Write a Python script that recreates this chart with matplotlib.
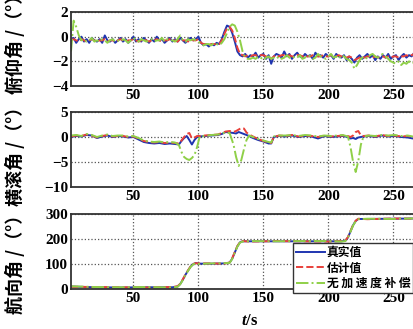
import numpy as np
import matplotlib
matplotlib.use('Agg')
import matplotlib.pyplot as plt

plt.rcParams['font.family'] = ['Liberation Serif', 'DejaVu Serif']
plt.rcParams['font.weight'] = 'bold'
plt.rcParams['mathtext.fontset'] = 'custom'
plt.rcParams['mathtext.it'] = 'Liberation Serif:italic:bold'
plt.rcParams['mathtext.rm'] = 'Liberation Serif:bold'

# ---- pitch data (2 s step) ----
pitch_t = np.arange(2, 271, 2)
pitch_true = [
    -0.3, -0.1, -0.5, -0.2, 0.0, -0.4, -0.2, -0.5, -0.1, -0.3,
    -0.4, -0.2, -0.5, 0.1, -0.3, -0.4, -0.2, -0.5, -0.3, -0.1,
    -0.4, -0.2, -0.5, -0.3, 0.0, -0.4, -0.2, -0.4, -0.1, -0.3,
    -0.5, -0.2, -0.4, 0.0, -0.3, -0.2, -0.5, -0.3, -0.1, -0.4,
    -0.2, -0.4, -0.1, -0.3, -0.5, -0.2, -0.1, -0.3, -0.2, 0.0,
    -0.5, -0.7, -0.6, -0.8, -0.6, -0.7, -0.5, -0.6, -0.2, 0.4,
    0.9, 0.8, 0.3, -0.4, -1.2, -1.5, -1.6, -1.4, -1.7, -1.5,
    -1.6, -1.3, -1.7, -1.5, -1.4, -1.8, -1.5, -2.2, -1.6, -1.4,
    -1.5, -1.7, -1.2, -1.6, -1.4, -1.8, -1.5, -1.3, -1.6, -1.7,
    -1.4, -1.6, -1.5, -1.8, -1.3, -1.6, -1.5, -1.7, -1.4, -1.6,
    -1.5, -1.8, -1.4, -1.6, -1.7, -1.5, -1.9, -1.6, -1.8, -2.1,
    -1.7, -1.5, -1.8, -1.6, -1.4, -1.7, -1.5, -1.9, -1.6, -1.8,
    -1.5, -1.7, -1.4, -1.8, -1.6, -1.5, -1.9, -1.6, -1.4, -1.7,
    -1.5, -1.6, -1.3, -1.6, -1.5]
pitch_est = [
    -0.3, -0.2, -0.3, -0.4, -0.2, -0.3, -0.4, -0.3, -0.2, -0.3,
    -0.4, -0.3, -0.3, -0.2, -0.4, -0.3, -0.3, -0.4, -0.3, -0.2,
    -0.3, -0.4, -0.3, -0.3, -0.2, -0.3, -0.4, -0.3, -0.2, -0.3,
    -0.4, -0.3, -0.3, -0.2, -0.3, -0.4, -0.3, -0.3, -0.2, -0.3,
    -0.3, -0.4, -0.2, -0.3, -0.3, -0.4, -0.2, -0.3, -0.3, -0.2,
    -0.5, -0.6, -0.6, -0.7, -0.6, -0.6, -0.6, -0.6, -0.3, 0.2,
    0.7, 0.8, 0.5, -0.1, -0.9, -1.4, -1.5, -1.6, -1.5, -1.6,
    -1.5, -1.5, -1.6, -1.5, -1.5, -1.6, -1.6, -1.8, -1.6, -1.5,
    -1.6, -1.5, -1.5, -1.6, -1.5, -1.6, -1.6, -1.5, -1.5, -1.6,
    -1.5, -1.6, -1.6, -1.5, -1.5, -1.6, -1.6, -1.5, -1.6, -1.6,
    -1.5, -1.6, -1.6, -1.5, -1.6, -1.6, -1.7, -1.6, -1.7, -1.9,
    -1.8, -1.7, -1.6, -1.7, -1.6, -1.6, -1.7, -1.6, -1.7, -1.6,
    -1.6, -1.7, -1.6, -1.7, -1.6, -1.6, -1.7, -1.6, -1.6, -1.5,
    -1.6, -1.5, -1.4, -1.5, -1.5]
pitch_noacc = [
    -1.2, 1.3, 0.8, 0.1, -0.3, -0.2, -0.4, -0.3, -0.1, -0.4,
    -0.3, -0.4, -0.2, -0.3, -0.5, -0.3, -0.2, -0.4, -0.3, -0.4,
    -0.2, -0.3, -0.5, -0.3, -0.1, -0.3, -0.4, -0.2, -0.3, -0.4,
    -0.3, -0.2, -0.4, -0.3, -0.3, -0.1, -0.4, -0.2, -0.3, -0.3,
    -0.4, -0.2, 0.1, -0.3, -0.4, -0.2, -0.3, -0.2, -0.3, -0.4,
    -0.6, -0.7, -0.6, -0.6, -0.7, -0.5, -0.6, -0.7, -0.5, -0.2,
    0.3, 0.8, 1.0, 0.9, 0.4, -0.3, -1.2, -1.7, -1.8, -1.8,
    -1.7, -1.8, -1.6, -1.7, -1.9, -1.7, -1.6, -1.8, -1.7, -1.8,
    -1.6, -1.8, -1.7, -1.5, -1.7, -1.8, -1.6, -1.7, -1.5, -1.8,
    -1.7, -1.5, -1.6, -1.8, -1.7, -1.4, -1.6, -1.7, -1.8, -1.6,
    -1.4, -1.7, -1.6, -1.8, -1.5, -1.6, -1.8, -1.9, -2.1, -2.6,
    -2.3, -1.9, -1.7, -1.6, -1.8, -1.5, -1.4, -1.6, -1.7, -1.5,
    -1.4, -1.6, -1.8, -2.0, -2.1, -2.2, -2.0, -2.3, -2.1, -2.2,
    -2.0, -2.2, -2.1, -2.3, -2.2]

# ---- roll data ----
roll_t = [2, 6, 10, 14, 18, 22, 26, 30, 34, 38,
          42, 46, 50, 54, 58, 62, 66, 70, 74, 78,
          82, 85, 87, 89, 91, 93, 95, 97, 99, 101,
          105, 110, 115, 118, 121, 124, 127, 129, 131, 133,
          135, 137, 139, 142, 146, 150, 154, 156, 158, 162,
          167, 172, 177, 182, 187, 192, 197, 202, 207, 211,
          215, 217, 219, 221, 223, 225, 227, 231, 236, 241,
          246, 251, 256, 261, 265, 270]
roll_true = [0.0, 0.2, 0.1, 0.4, 0.3, -0.2, 0.1, 0.3, 0.0, 0.2,
             0.1, -0.1, 0.0, -0.5, -1.0, -1.2, -1.3, -1.2, -1.4, -1.3,
             -1.4, -1.5, -0.8, -0.2, 0.2, -0.6, -1.5, -0.6, 0.0, 0.1,
             0.2, 0.3, 0.4, 0.6, 1.0, 0.9, 0.8, 0.7, 1.0, 0.8,
             0.6, 0.4, 0.2, -0.2, -0.6, -0.9, -1.3, -1.3, 0.0, 0.2,
             0.1, 0.3, 0.0, 0.2, 0.1, -0.3, 0.2, 0.0, 0.1, 0.2,
             0.0, -0.3, -0.2, -0.4, -0.1, 0.0, 0.1, 0.2, 0.0, 0.3,
             0.1, 0.2, 0.0, -0.1, -0.3, -0.4]
roll_est = [0.1, 0.3, 0.2, 0.5, 0.3, -0.1, 0.2, 0.4, 0.1, 0.2,
            0.2, 0.0, 0.1, -0.3, -0.8, -1.0, -1.1, -1.0, -1.2, -1.1,
            -1.2, -1.3, -0.7, 0.0, 0.6, 0.8, -0.3, -0.1, 0.2, 0.2,
            0.3, 0.4, 0.5, 0.8, 1.1, 1.2, 1.0, 1.2, 1.5, 1.8,
            1.7, 0.9, 0.5, 0.1, -0.4, -0.8, -1.1, -1.2, 0.0, 0.3,
            0.2, 0.4, 0.1, 0.3, 0.2, 0.0, 0.3, 0.1, 0.2, 0.3,
            0.2, 0.0, 0.3, 1.0, 1.2, 0.3, 0.2, 0.3, 0.1, 0.4,
            0.2, 0.3, 0.1, 0.2, 0.0, -0.2]
roll_noacc = [0.3, 0.4, 0.2, 0.6, 0.4, 0.0, 0.3, 0.5, 0.2, 0.3,
              0.3, 0.1, 0.2, -0.2, -0.7, -0.9, -1.0, -0.9, -1.1, -1.0,
              -1.1, -1.6, -3.0, -4.0, -4.4, -4.6, -4.2, -3.6, -2.0, 0.1,
              0.2, 0.4, 0.5, 0.7, 0.9, 0.8, -1.5, -4.0, -5.8, -4.6,
              -2.5, -0.6, 0.3, 0.0, -0.4, -0.7, -1.0, -1.1, 0.1, 0.3,
              0.3, 0.4, 0.2, 0.4, 0.3, 0.1, 0.3, 0.2, 0.3, 0.4,
              0.1, -2.0, -5.0, -7.0, -4.8, -1.5, 0.1, 0.3, 0.2, 0.4,
              0.3, 0.4, 0.2, 0.3, 0.1, -0.2]

# ---- heading data ----
head_t = [2, 20, 40, 60, 80, 84, 86, 88, 90, 92, 94, 96, 98, 100,
          110, 120, 124, 126, 128, 130, 132, 134, 140, 160, 180, 200,
          210, 213, 215, 217, 219, 221, 223, 230, 250, 270]
head_true = [8, 5, 4, 5, 5, 8, 18, 35, 55, 72, 88, 98, 103, 100,
             100, 101, 104, 120, 145, 170, 186, 190, 190, 190, 190, 190,
             190, 192, 205, 230, 255, 272, 280, 280, 281, 282]
head_est = [7, 6, 5, 4, 6, 9, 19, 37, 56, 73, 89, 99, 102, 101,
            101, 100, 105, 122, 147, 171, 187, 191, 189, 191, 190, 189,
            191, 193, 207, 232, 256, 273, 281, 279, 282, 281]
head_noacc = [9, 6, 5, 6, 4, 7, 17, 34, 54, 71, 87, 97, 102, 99,
              101, 102, 103, 119, 144, 169, 185, 189, 191, 190, 191, 191,
              189, 191, 204, 229, 254, 271, 279, 281, 280, 283]

labels = ['真实值', '估计值', '无 加 速 度 补 偿']
ylabels = ['俯仰角 /（°）', '横滚角 /（°）', '航向角 /（°）']
ylims = [(-4, 2), (-10, 5), (-2, 300)]
yticks = [[-4, -2, 0, 2], [-10, -5, 0, 5], [0, 100, 200, 300]]

colors = ['#1f35b0', '#e8403a', '#8fd048']
styles = ['-', '--', '-.']

fig = plt.figure(figsize=(4.14, 3.29), dpi=100)
W, H = 414.0, 329.0
# (top px, bottom px) of each panel
rows = [(12, 86), (112, 187), (214, 289)]
left_px = 71
xmin, xmax = 2, 300
width_px = (xmax - xmin) * 1.3

series = [
    (pitch_t, [pitch_true, pitch_est, pitch_noacc]),
    (roll_t, [roll_true, roll_est, roll_noacc]),
    (head_t, [head_true, head_est, head_noacc]),
]

axes = []
for i, (top, bot) in enumerate(rows):
    ax = fig.add_axes([left_px / W, 1 - bot / H, width_px / W, (bot - top) / H])
    t, ys = series[i]
    lines = []
    for y, c, ls in zip(ys, colors, styles):
        ln, = ax.plot(t, y, color=c, linestyle=ls, linewidth=1.4)
        lines.append(ln)
    ax.set_xlim(xmin, xmax)
    ax.set_ylim(*ylims[i])
    ax.set_xticks([50, 100, 150, 200, 250])
    ax.set_yticks(yticks[i])
    ax.grid(True, linestyle=':', color='#555555', linewidth=0.9)
    ax.tick_params(length=0, pad=2, labelsize=11)
    for sp in ax.spines.values():
        sp.set_linewidth(1.3)
        sp.set_color('#333333')
    axes.append(ax)

ylab_y = [40, 152, 260]
for lab, yy in zip(ylabels, ylab_y):
    fig.text(15 / W, 1 - yy / H, lab, rotation=90, ha='center', va='center',
             fontsize=13, fontweight='bold', family=['Noto Sans CJK SC', 'DejaVu Sans'])

fig.text(250 / W, 1 - 321 / H, r'$t$/s', ha='center', va='center',
         fontsize=12, fontweight='bold')

leg = axes[2].legend(lines, labels, loc='upper left',
                     bbox_to_anchor=(293 / W, 1 - 243 / H), bbox_transform=fig.transFigure,
                     prop={'family': ['Noto Sans CJK SC', 'DejaVu Sans'], 'size': 8.5, 'weight': 'bold'},
                     frameon=True, fancybox=False, handlelength=2.5, handletextpad=0.1,
                     borderpad=0.25, labelspacing=0.2, borderaxespad=0)
leg.get_frame().set_edgecolor('#333333')
leg.get_frame().set_linewidth(1.0)
leg.get_frame().set_alpha(1.0)

fig.savefig('out.png', dpi=100)
